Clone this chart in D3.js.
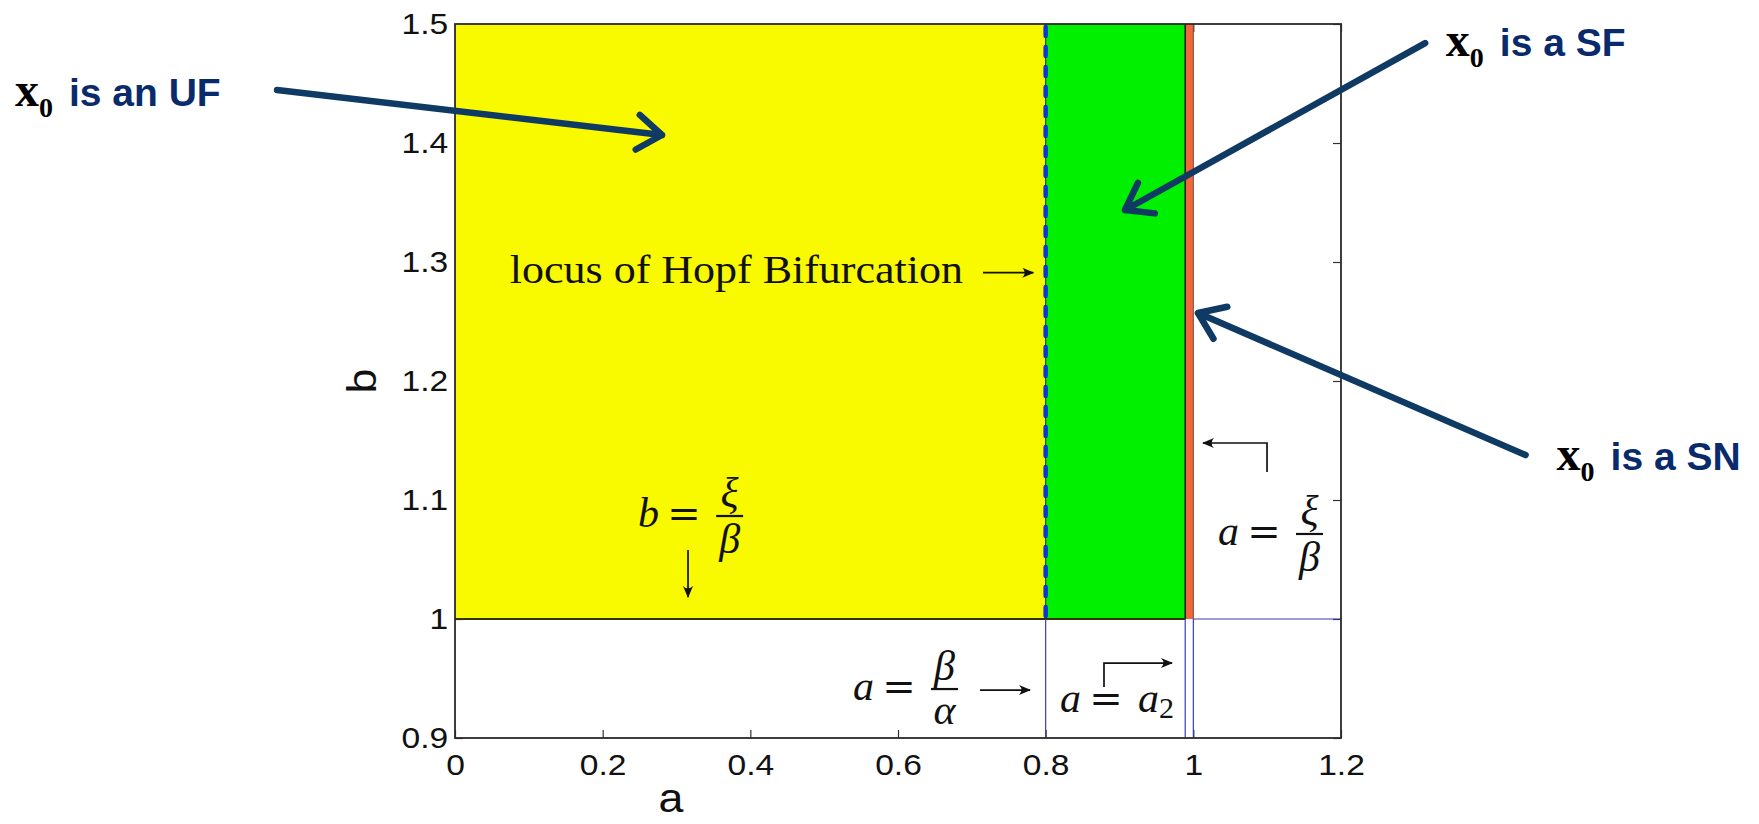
<!DOCTYPE html>
<html><head><meta charset="utf-8">
<script src="https://cdn.jsdelivr.net/npm/d3@7"></script>
<style>body{margin:0;background:#fff;} svg{display:block}</style>
</head><body><svg id="chart" width="1759" height="824"></svg>
<script>
// ---------------- data ----------------
const xTicks = [0, 0.2, 0.4, 0.6, 0.8, 1, 1.2];
const yTicks = [0.9, 1, 1.1, 1.2, 1.3, 1.4, 1.5];
const xTickLabels = ["0", "0.2", "0.4", "0.6", "0.8", "1", "1.2"];
const yTickLabels = ["0.9", "1", "1.1", "1.2", "1.3", "1.4", "1.5"];
const aDomain = [0, 1.2];
const bDomain = [0.9, 1.5];

// stability regions of x0 in the (a, b) plane
const regionNames = ["UF", "SF", "SN"];
const regionAStart = [0, 0.8, 0.989];
const regionAEnd = [0.8, 0.989, 1.0];
const regionBStart = [1, 1, 1];
const regionBEnd = [1.5, 1.5, 1.5];

const hopfA = 0.8;          // a = beta/alpha : locus of Hopf bifurcation
const a2 = 0.989;           // a = a2
const xiOverBeta = 1.0;     // a = xi/beta and b = xi/beta
const guideA = [0.8, 0.989, 1.0];   // thin guides below b = xi/beta

// callouts "x0 is ..."
const calloutPhrases = ["is an UF", "is a SF", "is a SN"];
const calloutTextA = [-0.596, 1.342, 1.492];
const calloutTextB = [1.431, 1.473, 1.125];
const calloutFromA = [-0.241, 1.314, 1.450];
const calloutFromB = [1.4445, 1.484, 1.1378];
const calloutToA = [0.2804, 0.9075, 1.0063];
const calloutToB = [1.4067, 1.3437, 1.2571];

// math labels
const mathLhs = ["b", "a", "a", "a"];
const mathNum = ["ξ", "β", null, "ξ"];
const mathDen = ["β", "α", null, "β"];
const mathRhs = [null, null, "a", null];
const mathRhsSub = [null, null, "2", null];
const mathA = [0.248, 0.5391, 0.8194, 1.0334];
const mathB = [1.0773, 0.9319, 0.9218, 1.0622];

// straight label arrows
const arrowFromA = [0.7151, 0.3156, 0.7111];
const arrowFromB = [1.2910, 1.058, 0.9403];
const arrowToA = [0.7832, 0.3156, 0.7788];
const arrowToB = [1.2910, 1.0185, 0.9403];
// hook arrows (up, then sideways)
const hookA = [0.8790, 1.0998];
const hookFromB = [0.9429, 1.1235];
const hookCornerB = [0.9630, 1.1479];
const hookToA = [0.9711, 1.0131];

const hopfLabel = "locus of Hopf Bifurcation";
const hopfLabelA = 0.688, hopfLabelB = 1.2824;

// ---------------- drawing ----------------
const svg = d3.select("#chart");
const L = 455, R = 1341, T = 24, B = 738;
const x = d3.scaleLinear().domain(aDomain).range([L, R]);
const y = d3.scaleLinear().domain(bDomain).range([B, T]);

const defs = svg.append("defs");
defs.append("marker").attr("id", "head").attr("viewBox", "0 0 12 10")
  .attr("refX", 11).attr("refY", 5).attr("markerWidth", 13).attr("markerHeight", 10)
  .attr("markerUnits", "userSpaceOnUse").attr("orient", "auto")
  .append("path").attr("d", "M0,0 Q5,5 0,10 L12,5 Z").attr("fill", "#111");

// ticks (under the patches)
const tickColor = "#333";
function styleAxis(g) {
  g.select(".domain").remove();
  g.selectAll(".tick line").attr("stroke", tickColor).attr("stroke-width", 1.2);
}
const fmtX = (d, i) => xTickLabels[i];
const fmtY = (d, i) => yTickLabels[i];
svg.append("g").attr("transform", `translate(0,${T})`)
  .call(d3.axisTop(x).tickValues(xTicks).tickSize(-8).tickFormat("")).call(styleAxis);
svg.append("g").attr("transform", `translate(${R},0)`)
  .call(d3.axisRight(y).tickValues(yTicks).tickSize(-8).tickFormat("")).call(styleAxis);
const gx = svg.append("g").attr("transform", `translate(0,${B})`)
  .call(d3.axisBottom(x).tickValues(xTicks).tickSize(-8).tickPadding(16).tickFormat(fmtX)).call(styleAxis);
const gy = svg.append("g").attr("transform", `translate(${L},0)`)
  .call(d3.axisLeft(y).tickValues(yTicks).tickSize(-8).tickPadding(7).tickFormat(fmtY)).call(styleAxis);
[gx, gy].forEach(g => g.selectAll(".tick text")
  .attr("font-family", "Liberation Sans, Arial, sans-serif").attr("font-size", 30)
  .attr("fill", "#111"));
gx.selectAll(".tick text").attr("transform", "scale(1.12,1)");
gy.selectAll(".tick text").attr("x", -6).attr("transform", "scale(1.12,1)");

// regions
const regionColors = ["#f9f900", "#00f000", "#f0673c"];
svg.append("g").selectAll("rect").data(regionNames).join("rect")
  .attr("x", (d, i) => x(regionAStart[i]))
  .attr("y", (d, i) => y(regionBEnd[i]))
  .attr("width", (d, i) => x(regionAEnd[i]) - x(regionAStart[i]))
  .attr("height", (d, i) => y(regionBStart[i]) - y(regionBEnd[i]))
  .attr("fill", (d, i) => regionColors[i]);

// boundary lines
svg.append("line").attr("x1", x(0)).attr("x2", x(a2)).attr("y1", y(xiOverBeta)).attr("y2", y(xiOverBeta))
  .attr("stroke", "#333300").attr("stroke-width", 1.8);
svg.append("line").attr("x1", x(a2)).attr("x2", x(a2)).attr("y1", y(1.5)).attr("y2", y(xiOverBeta))
  .attr("stroke", "#222").attr("stroke-width", 1.6);
svg.append("line").attr("x1", x(xiOverBeta)).attr("x2", x(xiOverBeta)).attr("y1", y(1.5)).attr("y2", y(xiOverBeta))
  .attr("stroke", "#7a4a40").attr("stroke-width", 1);
// thin blue guides
const guideColor = "#3b3bb0";
svg.append("g").selectAll("line").data(guideA).join("line")
  .attr("x1", d => x(d)).attr("x2", d => x(d)).attr("y1", y(0.9)).attr("y2", y(xiOverBeta))
  .attr("stroke", guideColor).attr("stroke-width", 1.2);
svg.append("line").attr("x1", x(xiOverBeta)).attr("x2", x(1.2)).attr("y1", y(xiOverBeta)).attr("y2", y(xiOverBeta))
  .attr("stroke", guideColor).attr("stroke-width", 1.2);
// Hopf locus (dashed)
svg.append("line").attr("x1", x(hopfA)).attr("x2", x(hopfA)).attr("y1", y(1.5)).attr("y2", y(xiOverBeta))
  .attr("stroke", "#223").attr("stroke-width", 1);
svg.append("line").attr("x1", x(hopfA)).attr("x2", x(hopfA)).attr("y1", y(1.5) + 3).attr("y2", y(xiOverBeta))
  .attr("stroke", "#0a35d8").attr("stroke-width", 4.5).attr("stroke-dasharray", "9 11")
  .attr("stroke-linecap", "round");

// frame
svg.append("rect").attr("x", L).attr("y", T).attr("width", R - L).attr("height", B - T)
  .attr("fill", "none").attr("stroke", "#2a2a2a").attr("stroke-width", 1.8);

// axis titles
svg.append("text").attr("transform", `translate(671,812) scale(1.12,1)`)
  .attr("text-anchor", "middle").attr("font-family", "Liberation Sans, Arial, sans-serif")
  .attr("font-size", 40).attr("fill", "#111").text("a");
svg.append("text").attr("transform", `translate(376,${(T + B) / 2}) rotate(-90) scale(1.12,1)`)
  .attr("text-anchor", "middle").attr("font-family", "Liberation Sans, Arial, sans-serif")
  .attr("font-size", 40).attr("fill", "#111").text("b");

// Hopf label
const serif = "Liberation Serif, Times New Roman, serif";
svg.append("text").attr("transform", `translate(${x(hopfLabelA)},${y(hopfLabelB)}) scale(1.1,1)`)
  .attr("text-anchor", "end").attr("font-family", serif).attr("font-size", 40).attr("fill", "#111")
  .text(hopfLabel);

// math labels
const mg = svg.append("g").attr("font-family", serif).attr("fill", "#111");
mathLhs.forEach((lhs, i) => {
  const g = mg.append("g").attr("transform", `translate(${x(mathA[i])},${y(mathB[i])})`);
  g.append("text").attr("font-style", "italic").attr("font-size", 42).text(lhs);
  g.append("text").attr("x", 46).attr("text-anchor", "middle").attr("font-family", "DejaVu Serif, serif")
    .attr("font-size", 40).text("=");
  if (mathNum[i]) {
    g.append("line").attr("x1", 78).attr("x2", 105).attr("y1", -11).attr("y2", -11)
      .attr("stroke", "#111").attr("stroke-width", 2.2);
    g.append("text").attr("x", 91.5).attr("y", -20).attr("text-anchor", "middle")
      .attr("font-style", "italic").attr("font-size", 42).text(mathNum[i]);
    g.append("text").attr("x", 91.5).attr("y", i === 1 ? 24 : 26).attr("text-anchor", "middle")
      .attr("font-style", "italic").attr("font-size", 42).text(mathDen[i]);
  } else {
    g.append("text").attr("x", 78).attr("font-style", "italic").attr("font-size", 42).text(mathRhs[i]);
    g.append("text").attr("x", 99).attr("y", 6).attr("font-size", 30).text(mathRhsSub[i]);
  }
});

// label arrows
const ag = svg.append("g").attr("stroke", "#111").attr("stroke-width", 1.7).attr("fill", "none");
arrowFromA.forEach((d, i) => {
  ag.append("line").attr("x1", x(arrowFromA[i])).attr("y1", y(arrowFromB[i]))
    .attr("x2", x(arrowToA[i])).attr("y2", y(arrowToB[i])).attr("marker-end", "url(#head)");
});
hookA.forEach((d, i) => {
  ag.append("path").attr("d",
    `M${x(hookA[i])},${y(hookFromB[i])} V${y(hookCornerB[i])} H${x(hookToA[i])}`)
    .attr("marker-end", "url(#head)");
});

// callouts
const arrowNavy = "#0e3a64", textNavy = "#0a2b6b";
const cg = svg.append("g");
calloutPhrases.forEach((p, i) => {
  const x1 = x(calloutFromA[i]), y1 = y(calloutFromB[i]);
  const x2 = x(calloutToA[i]), y2 = y(calloutToB[i]);
  const ang = Math.atan2(y1 - y2, x1 - x2), hl = 30, hw = 0.62;
  const p1 = [x2 + hl * Math.cos(ang + hw), y2 + hl * Math.sin(ang + hw)];
  const p2 = [x2 + hl * Math.cos(ang - hw), y2 + hl * Math.sin(ang - hw)];
  cg.append("path")
    .attr("d", `M${x1},${y1} L${x2},${y2} M${p1[0]},${p1[1]} L${x2},${y2} L${p2[0]},${p2[1]}`)
    .attr("fill", "none").attr("stroke", arrowNavy).attr("stroke-width", 6.5)
    .attr("stroke-linecap", "round").attr("stroke-linejoin", "round");
  const tx = x(calloutTextA[i]), ty = y(calloutTextB[i]);
  const t = cg.append("text").attr("x", tx).attr("y", ty);
  t.append("tspan").attr("font-family", serif).attr("font-weight", "bold").attr("font-size", 48)
    .attr("fill", "#000").text("x");
  t.append("tspan").attr("font-family", serif).attr("font-weight", "bold").attr("font-size", 28)
    .attr("fill", "#000").attr("dy", 11).text("0");
  t.append("tspan").attr("x", tx + 54).attr("dy", -11).attr("font-family", "Liberation Sans, Arial, sans-serif")
    .attr("font-weight", "bold").attr("font-size", 39).attr("fill", textNavy).text(p);
});
</script></body></html>
